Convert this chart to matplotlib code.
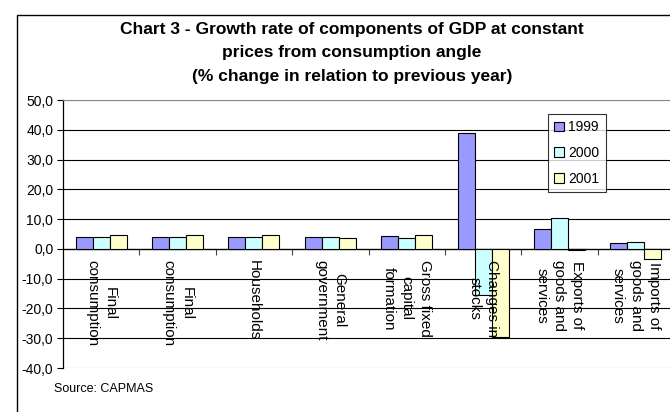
import matplotlib
matplotlib.use("Agg")
import matplotlib.pyplot as plt
from matplotlib.patches import Rectangle
import numpy as np

plt.rcParams['font.family'] = ['Liberation Sans', 'DejaVu Sans']

categories = ["Final\nconsumption", "Final\nconsumption", "Households",
              "General\ngovernment", "Gross fixed\ncapital\nformation",
              "Changes in\nstocks", "Exports of\ngoods and\nservices",
              "Imports of\ngoods and\nservices"]
years = ["1999", "2000", "2001"]
v1999 = [4.1, 4.1, 4.1, 4.1, 4.2, 39.0, 6.8, 1.9]
v2000 = [4.1, 4.1, 4.1, 4.1, 3.8, -15.6, 10.4, 2.4]
v2001 = [4.6, 4.6, 4.6, 3.7, 4.6, -29.6, -0.4, -3.3]
colors = ["#9999FF", "#CCFFFF", "#FFFFCC"]

fig = plt.figure(figsize=(6.7, 4.12), dpi=100)
ax = fig.add_axes([63/670, 44/412, 611/670, 268/412])

x = np.arange(len(categories))
w = 1/4.5
for k, (vals, c, lab) in enumerate(zip([v1999, v2000, v2001], colors, years)):
    ax.bar(x + (k-1)*w, vals, w, color=c, edgecolor='black', linewidth=0.8, label=lab, zorder=3)

ax.set_xlim(-0.5, len(categories)-0.5)
ax.set_ylim(-40, 50)
yt = np.arange(-40, 51, 10)
ax.set_yticks(yt)
ax.set_yticklabels([f"{v:.1f}".replace('.', ',') for v in yt], fontsize=10)
ax.tick_params(axis='y', direction='out', length=4, width=0.8, pad=3)

ax.spines['bottom'].set_position(('data', 0))
ax.spines['bottom'].set_linewidth(0.9)
ax.spines['top'].set_color('#888888')
ax.spines['right'].set_visible(False)
ax.spines['left'].set_linewidth(0.9)
ax.set_xticks(x[:-1] + 0.5)
ax.set_xticklabels([])
ax.tick_params(axis='x', direction='out', length=4, width=0.8, color='#444444')

ax.set_axisbelow(True)
ax.yaxis.grid(True, color='black', linewidth=0.8)
gl = ax.get_ygridlines()
gl[0].set_color('#888888')
gl[-1].set_color('#888888')

for i, lab in enumerate(categories):
    ax.annotate(lab, (i, 0), xytext=(0, -8), textcoords='offset points',
                rotation=-90, ha='center', va='top', multialignment='center',
                fontsize=11, linespacing=1.35, zorder=5)

leg = ax.legend(loc='upper left', bbox_to_anchor=((548-63)/611, (368-114)/268),
                fontsize=10, frameon=True, fancybox=False, edgecolor='black',
                handlelength=0.7, handleheight=0.7, handletextpad=0.3,
                labelspacing=0.85, borderpad=0.45, borderaxespad=0)
leg.get_frame().set_linewidth(0.8)

fig.text(352/670, 1-53/412, "Chart 3 - Growth rate of components of GDP at constant\n"
         "prices from consumption angle\n(% change in relation to previous year)",
         ha='center', va='center', fontsize=12.5, fontweight='bold', linespacing=1.7)
fig.text(54/670, 1-389/412, "Source: CAPMAS", fontsize=9, va='center', ha='left')

fig.patches.append(Rectangle((17/670, -0.1), 1.0, 1.1-15/412, transform=fig.transFigure,
                             fill=False, edgecolor='black', linewidth=1.0))

fig.savefig("out.png", dpi=100)
